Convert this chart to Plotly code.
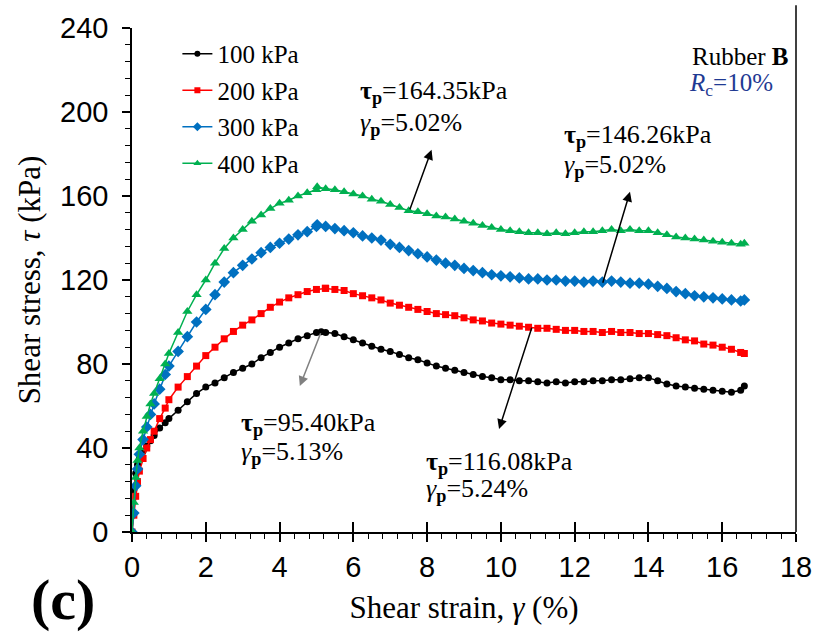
import plotly.graph_objects as go

# Shear strain (%) at which stress readings were logged
strain = [0, 0.05, 0.1, 0.15, 0.2, 0.3, 0.4, 0.5, 0.6, 0.75, 0.9,
          1.0, 1.25, 1.5, 1.75, 2.0, 2.25, 2.5, 2.75, 3.0, 3.25, 3.5, 3.75,
          4.0, 4.25, 4.5, 4.75, 5.0, 5.25, 5.5, 5.75, 6.0, 6.25, 6.5, 6.75,
          7.0, 7.25, 7.5, 7.75, 8.0, 8.25, 8.5, 8.75, 9.0, 9.25, 9.5, 9.75,
          10.0, 10.25, 10.5, 10.75, 11.0, 11.25, 11.5, 11.75, 12.0, 12.25,
          12.5, 12.75, 13.0, 13.25, 13.5, 13.75, 14.0, 14.25, 14.5, 14.75,
          15.0, 15.25, 15.5, 15.75, 16.0, 16.25, 16.5, 16.6]

# Shear stress (kPa) under each normal stress
stress_100 = [0, 20, 28, 32, 35, 38.5, 41, 43.5, 46, 49.5, 52,
              54, 58, 62, 66, 69, 71, 73.5, 76, 78, 80, 83, 85.5,
              88, 90, 92, 93.5, 95, 95, 94.5, 93, 91.5, 90, 88.5, 87,
              86, 84.5, 83, 82, 80.5, 79, 78, 77, 76, 75, 74, 73.5,
              72.5, 72.5, 72, 72, 71.5, 71, 71.5, 71, 71.5, 71.5,
              72, 72, 72.5, 72.5, 73, 73.5, 73.5, 72, 70.5, 69.5,
              69, 68.5, 68, 67.5, 67, 66.5, 67.5, 69.5]
stress_200 = [0, 8, 17, 24, 29, 35, 40, 44, 48, 54, 59,
              63, 69, 74, 79, 84, 88, 92, 95.5, 98.5, 101, 104, 107,
              109.5, 111.5, 113, 114.5, 115.5, 116, 115.5, 115, 113.5, 112.5, 111.5, 110.5,
              109, 108, 107, 106, 105, 104, 103.5, 103, 102, 101, 100.5, 99.5,
              99, 98.5, 98, 97.5, 97, 97, 96.5, 96, 96, 95.5,
              95.5, 95, 95.5, 95, 95, 94.5, 94.5, 94, 93.5, 92.5,
              91.5, 91, 89.5, 89, 88, 87, 85.5, 85]
stress_300 = [0, 9, 22, 30, 37, 44, 50, 56, 61, 68, 75,
              79, 86, 93, 100, 106, 113, 119, 123.5, 127, 130, 133, 135.5,
              137.5, 139.5, 141.5, 143, 145.5, 145.5, 144.5, 143.5, 142.5, 141, 140, 139,
              137, 135.5, 134, 132.5, 131, 129.5, 128, 127, 125.5, 124.5, 123.5, 122.5,
              122, 121.5, 121, 120.5, 120.5, 120, 120, 119.5, 119.5, 119,
              119.5, 119, 119.5, 119, 118.5, 118.5, 118, 117, 116, 114.5,
              113.5, 112.5, 112, 111.5, 111, 110.5, 110, 110.5]
stress_400 = [0, 14, 26, 34, 40, 48, 55, 61, 66, 73, 80,
              85, 95, 105, 113, 120, 128, 135, 140, 144, 148, 151, 154,
              156.5, 158, 160, 161.5, 163, 163.5, 163, 162, 161, 160, 158.5, 157.5,
              156, 154.5, 153, 152.5, 151.5, 150.5, 150, 149, 148, 147, 146, 145,
              144, 143.5, 143, 142.5, 142.5, 142, 142.5, 142, 142.5, 143,
              143, 143.5, 144, 143.5, 144, 143.5, 143.5, 142.5, 141.5, 140.5,
              140, 139.5, 139, 138.5, 138, 137.5, 137, 137.5]

series_names = ["100 kPa", "200 kPa", "300 kPa", "400 kPa"]
series_colors = ["#000000", "#FF0000", "#0070C0", "#00B050"]
series_symbols = ["circle", "square", "diamond", "triangle-up"]
series_sizes = [7, 7, 9, 9]
legend_sizes = [6, 6, 7, 7]

# Peak points
peak_strain = [5.13, 5.24, 5.02, 5.02]
peak_stress = [95.40, 116.08, 146.26, 164.35]

SERIF = "Liberation Serif, Times New Roman, serif"
SANS = "Liberation Sans Narrow, Liberation Sans, Arial, sans-serif"

fig = go.Figure()

for i, vals in enumerate([stress_100, stress_200, stress_300, stress_400]):
    pts = sorted(list(zip(strain, vals)) + [(peak_strain[i], peak_stress[i])])
    fig.add_trace(go.Scatter(
        x=[p[0] for p in pts], y=[p[1] for p in pts],
        mode="lines+markers", name=series_names[i], showlegend=False,
        line=dict(color=series_colors[i], width=1.5),
        marker=dict(symbol=series_symbols[i], size=series_sizes[i],
                    color=series_colors[i], line=dict(width=0)),
    ))

# legend entries with smaller symbols
for i in range(4):
    fig.add_trace(go.Scatter(
        x=[None], y=[None], mode="lines+markers", name=series_names[i],
        legendgroup=series_names[i],
        line=dict(color=series_colors[i], width=1.5),
        marker=dict(symbol=series_symbols[i], size=legend_sizes[i],
                    color=series_colors[i], line=dict(width=0)),
    ))

# Arrows from the curves towards the peak labels: (tail x, tail y, head x, head y, colour)
arrows = [
    (peak_strain[0], peak_stress[0], 4.55, 69.5, "#808080"),
    (10.85, 98.0, 9.95, 49.0, "#000000"),
    (12.75, 118.0, 13.5, 162.0, "#000000"),
    (7.52, 153.0, 8.12, 182.0, "#000000"),
]
for tx, ty, hx, hy, col in arrows:
    fig.add_annotation(x=hx, y=hy, ax=tx, ay=ty, xref="x", yref="y",
                       axref="x", ayref="y", text="", showarrow=True,
                       arrowhead=2, arrowsize=1.3, arrowwidth=1.5,
                       arrowcolor=col, standoff=0, startstandoff=0)

# Peak label positions (x, y of tau line, y of gamma line)
label_pos = [(2.89, 51.4, 37.7), (7.92, 33.0, 19.8),
             (11.65, 188.6, 174.5), (6.13, 209.3, 194.3)]
for i, (lx, ty, gy) in enumerate(label_pos):
    fig.add_annotation(x=lx, y=ty, xref="x", yref="y", xanchor="left",
                       yanchor="middle", showarrow=False,
                       text=f"<b>τ<sub>p</sub></b>={peak_stress[i]:.2f}kPa",
                       font=dict(family=SERIF, size=26, color="#000000"))
    fig.add_annotation(x=lx, y=gy, xref="x", yref="y", xanchor="left",
                       yanchor="middle", showarrow=False,
                       text=f"<i>γ</i><sub><b>p</b></sub>={peak_strain[i]:.2f}%",
                       font=dict(family=SERIF, size=26, color="#000000"))

fig.add_annotation(x=800, y=52, xref="paper", yref="paper", showarrow=False,
                   text="Rubber <b>B</b>", xanchor="right", yanchor="middle",
                   font=dict(family=SERIF, size=25, color="#000000"))
fig.add_annotation(x=784, y=80, xref="paper", yref="paper", showarrow=False,
                   text="<i>R</i><sub>c</sub>=10%", xanchor="right", yanchor="middle",
                   font=dict(family=SERIF, size=25, color="#1F3A93"))
fig.add_annotation(x=62, y=600, xref="paper", yref="paper", showarrow=False,
                   text="<b>(c)</b>", xanchor="center", yanchor="middle",
                   font=dict(family=SERIF, size=58, color="#000000"))

# convert pixel-placed paper annotations
W, H = 824, 637
L, R, T, B = 132, 19, 23, 105
pw, ph = W - L - R, H - T - B
for ann in fig.layout.annotations:
    if ann.xref == "paper":
        ann.x = (ann.x - L) / pw
        ann.y = 1 - (ann.y - T) / ph

# right border line
fig.add_shape(type="line", xref="paper", yref="paper", x0=1, x1=1, y0=0,
              y1=1 + T / ph, line=dict(color="#000000", width=1.5))

fig.update_layout(
    width=W, height=H,
    margin=dict(l=L, r=R, t=T, b=B),
    paper_bgcolor="white", plot_bgcolor="white",
    showlegend=True,
    legend=dict(x=(178 - L) / pw, y=1 - (26 - T) / ph, xanchor="left", yanchor="top",
                font=dict(family=SERIF, size=25, color="#000000"),
                bgcolor="rgba(0,0,0,0)", tracegroupgap=1, itemwidth=30),
    xaxis=dict(range=[0, 18], dtick=2, tick0=0, showgrid=False, zeroline=False,
               showline=True, linecolor="#000000", linewidth=1.5,
               ticks="outside", ticklen=8, tickwidth=1.5, tickcolor="#000000",
               minor=dict(dtick=0.4, ticks="outside", ticklen=5, tickwidth=1.2,
                          tickcolor="#000000"),
               tickfont=dict(family=SANS, size=29, color="#000000"),
               title=dict(text="Shear strain, <i>γ</i> (%)", standoff=15,
                          font=dict(family=SERIF, size=31, color="#000000"))),
    xaxis2=dict(range=[0, 18], dtick=2, tick0=0, overlaying="x", anchor="y",
                side="bottom", showgrid=False, zeroline=False, showline=False,
                ticks="inside", ticklen=10, tickwidth=1.5, tickcolor="#000000",
                showticklabels=False),
    yaxis=dict(range=[0, 240], dtick=40, tick0=0, showgrid=False, zeroline=False,
               showline=True, linecolor="#000000", linewidth=1.5,
               ticks="outside", ticklen=8, tickwidth=1.5, tickcolor="#000000",
               minor=dict(dtick=8, ticks="outside", ticklen=5, tickwidth=1.2,
                          tickcolor="#000000"),
               tickfont=dict(family=SANS, size=29, color="#000000"),
               ticklabelstandoff=8,
               title=dict(text="Shear stress, <i>τ</i> (kPa)", standoff=10,
                          font=dict(family=SERIF, size=31, color="#000000"))),
)
fig.add_trace(go.Scatter(x=[None], y=[None], xaxis="x2", showlegend=False))

fig.write_html("out.html")
